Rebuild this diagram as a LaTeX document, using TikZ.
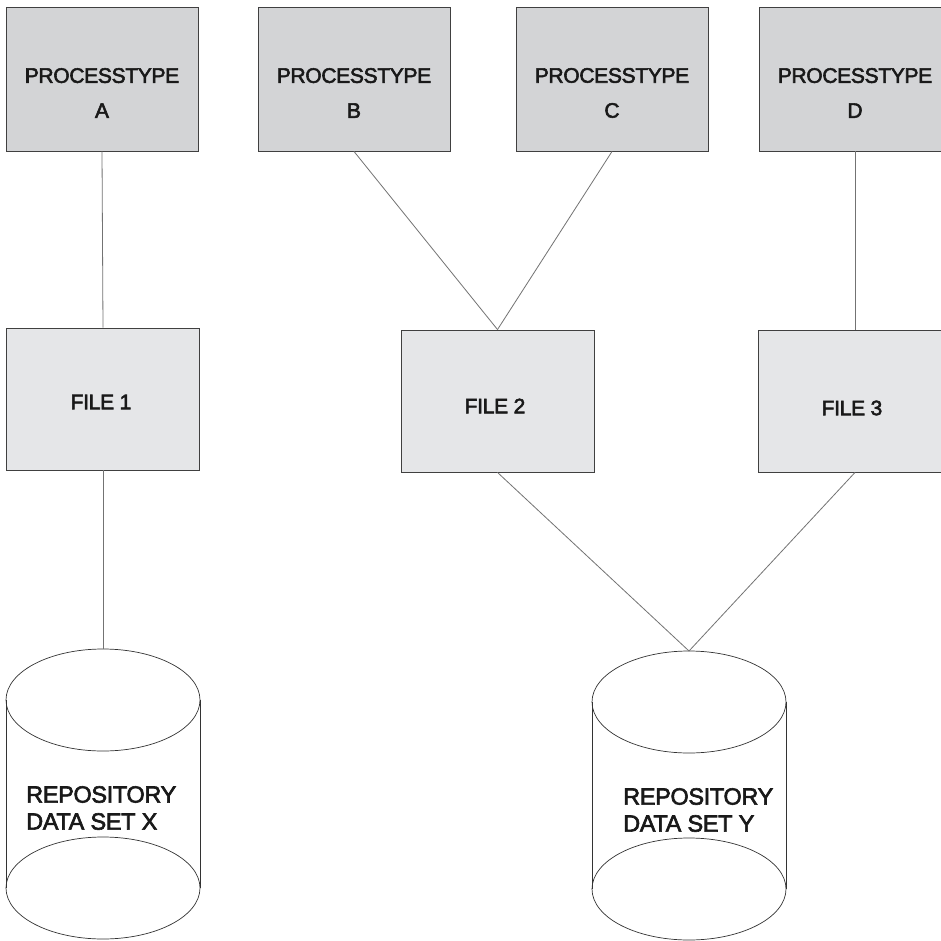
\documentclass[tikz,border=0pt]{standalone}
\usepackage{fontspec}
\setmainfont{Liberation Sans}[FakeBold=2.6,LetterSpace=-1.5]
\begin{document}
\begin{tikzpicture}[x=1pt,y=-1pt,
  procbox/.style={draw=black!75, line width=0.9pt, fill=procfill, minimum width=192pt, minimum height=144pt, inner sep=0pt},
  filebox/.style={draw=black!75, line width=0.9pt, fill=filefill, minimum width=193pt, minimum height=142pt, inner sep=0pt},
  proctext/.style={font=\fontsize{21}{35}\selectfont, align=center, inner sep=0pt, text=black!90},
  filetext/.style={font=\fontsize{21}{25}\selectfont, inner sep=0pt, text=black!90},
  cyltext/.style={font=\fontsize{23.5}{27}\selectfont, align=left, inner sep=0pt, anchor=north west, text=black!90},
  conn/.style={draw=black!55, line width=0.8pt},
  cyl/.style={draw=black!80, line width=0.7pt}]
\definecolor{procfill}{HTML}{D3D4D6}
\definecolor{filefill}{HTML}{E5E6E8}
\useasboundingbox (0,0) rectangle (941,941);
\clip (0,0) rectangle (941,941);
\fill[white] (0,0) rectangle (941,941);

% process boxes
\node[procbox] (pa) at (102,79) {};
\node[procbox] (pb) at (354,79) {};
\node[procbox] (pc) at (612,79) {};
\node[procbox] (pd) at (855,79) {};
\node[proctext] (ta) at (102,93) {PROCESSTYPE\\A};
\node[proctext] (tb) at (354,93) {PROCESSTYPE\\B};
\node[proctext] (tc) at (612,93) {PROCESSTYPE\\C};
\node[proctext] (td) at (855,93) {PROCESSTYPE\\D};

% file boxes
\node[filebox] (f1) at (103,399) {};
\node[filebox] (f2) at (497.5,401) {};
\node[filebox] (f3) at (855,401) {};
\node[filetext] (t1) at (101,402) {FILE 1};
\node[filetext] (t2) at (495,406) {FILE 2};
\node[filetext] (t3) at (852,408) {FILE 3};

% cylinders
\draw[cyl] (103,700) ellipse [x radius=97, y radius=51];
\draw[cyl] (103,888) ellipse [x radius=97, y radius=51];
\draw[cyl] (6,700) -- (6,888) (200,700) -- (200,888);
\coordinate (cx) at (103,649);
\node[cyltext] (rx) at (26,786) {REPOSITORY\\DATA SET X};

\draw[cyl] (689,702) ellipse [x radius=97, y radius=51];
\draw[cyl] (689,889) ellipse [x radius=97, y radius=51];
\draw[cyl] (592,702) -- (592,889) (786,702) -- (786,889);
\coordinate (cy) at (689,651);
\node[cyltext] (ry) at (623,788) {REPOSITORY\\DATA SET Y};

% connectors
\draw[conn] (pa.south) -- (f1.north);
\draw[conn] (f1.south) -- (cx);
\draw[conn] (pb.south) -- (f2.north);
\draw[conn] (pc.south) -- (f2.north);
\draw[conn] (pd.south) -- (f3.north);
\draw[conn] (f2.south) -- (cy);
\draw[conn] (f3.south) -- (cy);
\end{tikzpicture}
\end{document}
